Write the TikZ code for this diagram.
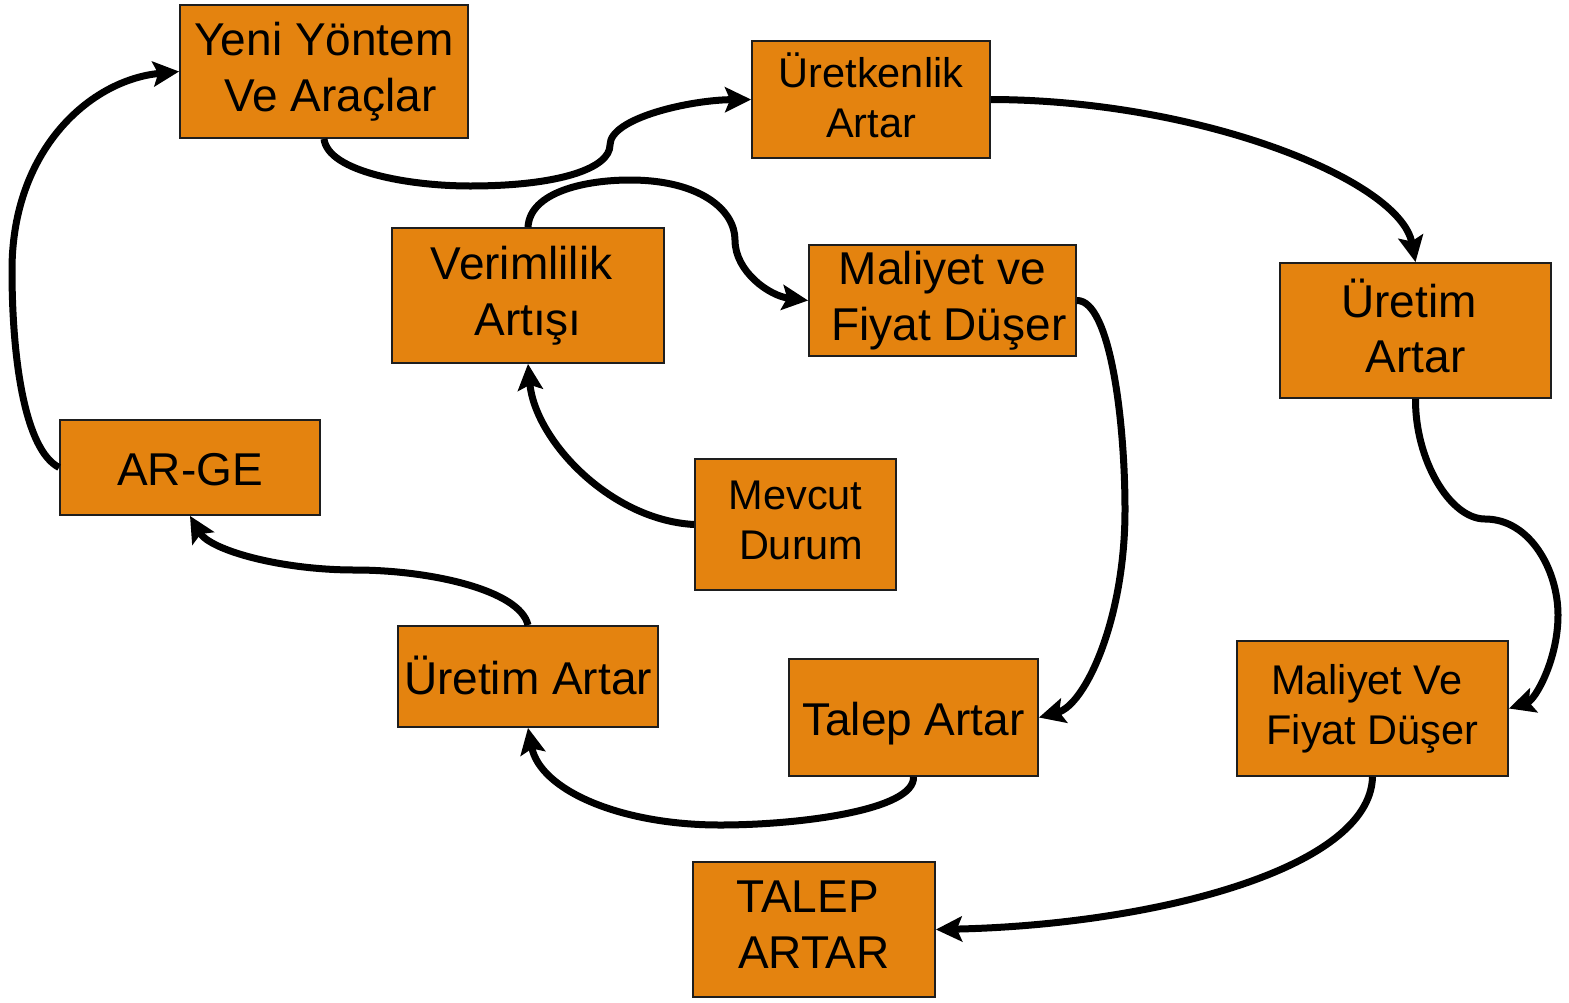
\documentclass[tikz,border=0pt]{standalone}
\usepackage{fontspec}
\setmainfont{Liberation Sans}
\usepackage{tikz}
\usetikzlibrary{arrows.meta}
\definecolor{turuncu}{HTML}{E4830F}
\definecolor{kenar}{HTML}{1E1E1E}
\newcommand{\dik}{\rule[-0.2em]{0pt}{1.2em}}
\newcommand{\bosluk}{\hspace*{0.278em}}

\begin{document}
\begin{tikzpicture}[x=1pt, y=-1pt,
    kutu/.style={draw=kenar, line width=1.8pt, fill=turuncu, inner sep=0pt, align=center,
      font=\fontsize{46}{55.5}\selectfont,
      execute at begin node=\dik, execute at end node=\dik},
    ince/.style={font=\fontsize{41.5}{50}\selectfont},
    ok/.style={line width=7pt, -{Stealth[length=26pt, width=25pt, inset=5pt]}}]
    \useasboundingbox (0,0) rectangle (1569,1002);
    % kutular
    \node[kutu, minimum width=288pt, minimum height=133pt] (yeni) at (324,71.5) {Yeni Yöntem\\\bosluk Ve Araçlar};
    \node[kutu, ince, minimum width=238pt, minimum height=117pt] (uretkenlik) at (871,99.5) {Üretkenlik\\Artar};
    \node[kutu, minimum width=272pt, minimum height=135pt] (verim) at (528,295.5) {Verimlilik\bosluk\\Artışı};
    \node[kutu, minimum width=267pt, minimum height=111pt] (maliyet) at (942.5,300.5) {Maliyet ve\\\bosluk Fiyat Düşer};
    \node[kutu, minimum width=271pt, minimum height=135pt] (uretimR) at (1415.5,330.5) {Üretim\bosluk\\Artar};
    \node[kutu, minimum width=260pt, minimum height=95pt] (arge) at (190,467.5) {AR-GE};
    \node[kutu, ince, minimum width=201pt, minimum height=131pt] (mevcut) at (795.5,524.5) {Mevcut\\\bosluk Durum};
    \node[kutu, minimum width=260pt, minimum height=101pt] (uretimM) at (528,676.5) {Üretim Artar};
    \node[kutu, minimum width=249pt, minimum height=117pt] (talep) at (913.5,717.5) {Talep Artar};
    \node[kutu, ince, minimum width=271pt, minimum height=135pt] (maliyetR) at (1372.5,708.5) {Maliyet Ve\bosluk\\Fiyat Düşer};
    \node[kutu, minimum width=242pt, minimum height=135pt] (talepB) at (814,929.5) {TALEP\bosluk\\ARTAR};
    % oklar
    \draw[ok] (arge.west) .. controls (25,450) and (12,360) .. (12,270)
      .. controls (12,150) and (90,80) .. (yeni.west);
    \draw[ok] (yeni.south) .. controls (328,172) and (410,186) .. (470,186)
      .. controls (560,186) and (610,168) .. (610,145)
      .. controls (610,118) and (690,100) .. (uretkenlik.west);
    \draw[ok] (uretkenlik.east) .. controls (1200,100) and (1400,180) .. (uretimR.north);
    \draw[ok] (verim.north) .. controls (530,192) and (585,180) .. (630,180)
      .. controls (700,180) and (735,210) .. (735,240)
      .. controls (735,272) and (770,296) .. (maliyet.west);
    \draw[ok] (mevcut.west) .. controls (610,520) and (535,440) .. (verim.south);
    \draw[ok] (maliyet.east) .. controls (1110,300) and (1125,420) .. (1125,510)
      .. controls (1125,620) and (1085,705) .. (talep.east);
    \draw[ok] (uretimR.south) .. controls (1415,460) and (1450,519) .. (1485,519)
      .. controls (1530,519) and (1558,570) .. (1558,615)
      .. controls (1558,660) and (1535,700) .. (maliyetR.east);
    \draw[ok] (talep.south) .. controls (915,810) and (800,825) .. (720,825)
      .. controls (620,825) and (540,790) .. (uretimM.south);
    \draw[ok] (uretimM.north) .. controls (520,590) and (430,570) .. (355,570)
      .. controls (280,570) and (210,550) .. (arge.south);
    \draw[ok] (maliyetR.south) .. controls (1370,870) and (1150,925) .. (talepB.east);
\end{tikzpicture}
\end{document}
